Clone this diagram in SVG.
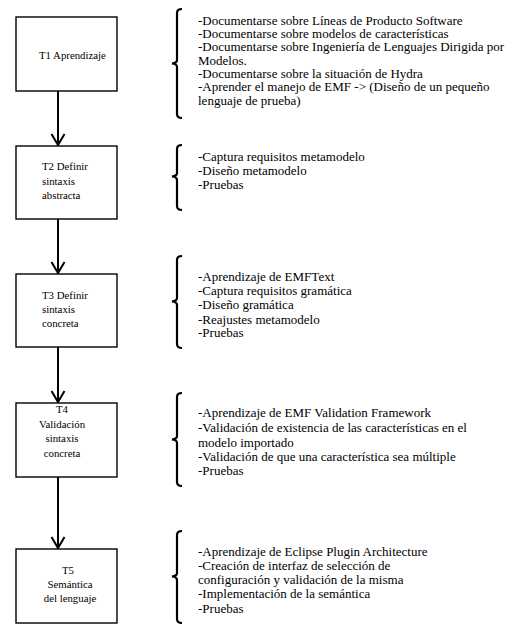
<svg xmlns="http://www.w3.org/2000/svg" width="515" height="631" viewBox="0 0 515 631">
<defs>
<marker id="ah" markerWidth="14" markerHeight="16" refX="12" refY="8" orient="auto" markerUnits="userSpaceOnUse" viewBox="0 0 14 16">
<path d="M1 1.5 L12 8 L1 14.5" fill="none" stroke="#000" stroke-width="2"/>
</marker>
<style>
.box{fill:#fff;stroke:#000;stroke-width:1.4}
.t{font-family:"Liberation Serif","DejaVu Serif",serif;font-size:13px;fill:#000}
.b{font-family:"Liberation Serif","DejaVu Serif",serif;font-size:10.8px;fill:#000}
.m{text-anchor:middle}
.br{fill:none;stroke:#000;stroke-width:2.2}
.cn{stroke:#000;stroke-width:2;fill:none}
</style>
</defs>
<rect width="515" height="631" fill="#fff"/>
<g id="connectors">
<line class="cn" x1="58" y1="91" x2="58" y2="145" marker-end="url(#ah)"/>
<line class="cn" x1="58" y1="219" x2="58" y2="273" marker-end="url(#ah)"/>
<line class="cn" x1="58" y1="347" x2="58" y2="402" marker-end="url(#ah)"/>
<line class="cn" x1="58" y1="477" x2="58" y2="548" marker-end="url(#ah)"/>
</g>
<g id="T1">
<rect class="box" x="16" y="17" width="101" height="74"/>
<text class="b" x="39" y="58.5">T1 Aprendizaje</text>
</g>
<g id="T2">
<rect class="box" x="16" y="146" width="101" height="73"/>
<text class="b" x="42" y="170">T2 Definir</text>
<text class="b" x="42" y="184.5">sintaxis</text>
<text class="b" x="42" y="198.5">abstracta</text>
</g>
<g id="T3">
<rect class="box" x="16" y="274" width="101" height="73"/>
<text class="b" x="42" y="298.5">T3 Definir</text>
<text class="b" x="42" y="313">sintaxis</text>
<text class="b" x="42" y="326.5">concreta</text>
</g>
<g id="T4">
<rect class="box" x="16" y="403" width="101" height="74"/>
<text class="b m" x="62" y="413">T4</text>
<text class="b m" x="62" y="427.5">Validación</text>
<text class="b m" x="62" y="442">sintaxis</text>
<text class="b m" x="62" y="456.5">concreta</text>
</g>
<g id="T5">
<rect class="box" x="16" y="549" width="101" height="74"/>
<text class="b m" x="68" y="573.5">T5</text>
<text class="b m" x="70" y="588">Semántica</text>
<text class="b m" x="70" y="602">del lenguaje</text>
</g>
<g id="N1">
<path class="br" d="M182 9 Q177 9 177 13 L177 60 Q177 63 172 63.5 Q177 64 177 67 L177 114 Q177 118 182 118"/>
<text class="t" x="198" y="24.5">-Documentarse sobre Líneas de Producto Software</text>
<text class="t" x="198" y="38">-Documentarse sobre modelos de características</text>
<text class="t" x="198" y="51">-Documentarse sobre Ingeniería de Lenguajes Dirigida por</text>
<text class="t" x="198" y="64.5">Modelos.</text>
<text class="t" x="198" y="78">-Documentarse sobre la situación de Hydra</text>
<text class="t" x="198" y="91">-Aprender el manejo de EMF -&gt; (Diseño de un pequeño</text>
<text class="t" x="198" y="104.5">lenguaje de prueba)</text>
</g>
<g id="N2">
<path class="br" d="M182 145 Q177 145 177 149 L177 173 Q177 176 172 176.5 Q177 177 177 180 L177 206 Q177 210 182 210"/>
<text class="t" x="198" y="160.5">-Captura requisitos metamodelo</text>
<text class="t" x="198" y="175">-Diseño metamodelo</text>
<text class="t" x="198" y="189">-Pruebas</text>
</g>
<g id="N3">
<path class="br" d="M182 256 Q177 256 177 260 L177 298 Q177 301 172 301.5 Q177 302 177 305 L177 344 Q177 348 182 348"/>
<text class="t" x="198" y="280.5">-Aprendizaje de EMFText</text>
<text class="t" x="198" y="295">-Captura requisitos gramática</text>
<text class="t" x="198" y="309">-Diseño gramática</text>
<text class="t" x="198" y="323.5">-Reajustes metamodelo</text>
<text class="t" x="198" y="337">-Pruebas</text>
</g>
<g id="N4">
<path class="br" d="M182 393 Q177 393 177 397 L177 436 Q177 439 172 439.5 Q177 440 177 443 L177 482 Q177 486 182 486"/>
<text class="t" x="198" y="417">-Aprendizaje de EMF Validation Framework</text>
<text class="t" x="198" y="432">-Validación de existencia de las características en el</text>
<text class="t" x="198" y="447">modelo importado</text>
<text class="t" x="198" y="461">-Validación de que una característica sea múltiple</text>
<text class="t" x="198" y="474.5">-Pruebas</text>
</g>
<g id="N5">
<path class="br" d="M182 531 Q177 531 177 535 L177 573 Q177 576 172 576.5 Q177 577 177 580 L177 619 Q177 623 182 623"/>
<text class="t" x="198" y="555.5">-Aprendizaje de Eclipse Plugin Architecture</text>
<text class="t" x="198" y="569.5">-Creación de interfaz de selección de</text>
<text class="t" x="198" y="584">configuración y validación de la misma</text>
<text class="t" x="198" y="598">-Implementación de la semántica</text>
<text class="t" x="198" y="612.5">-Pruebas</text>
</g>
</svg>
